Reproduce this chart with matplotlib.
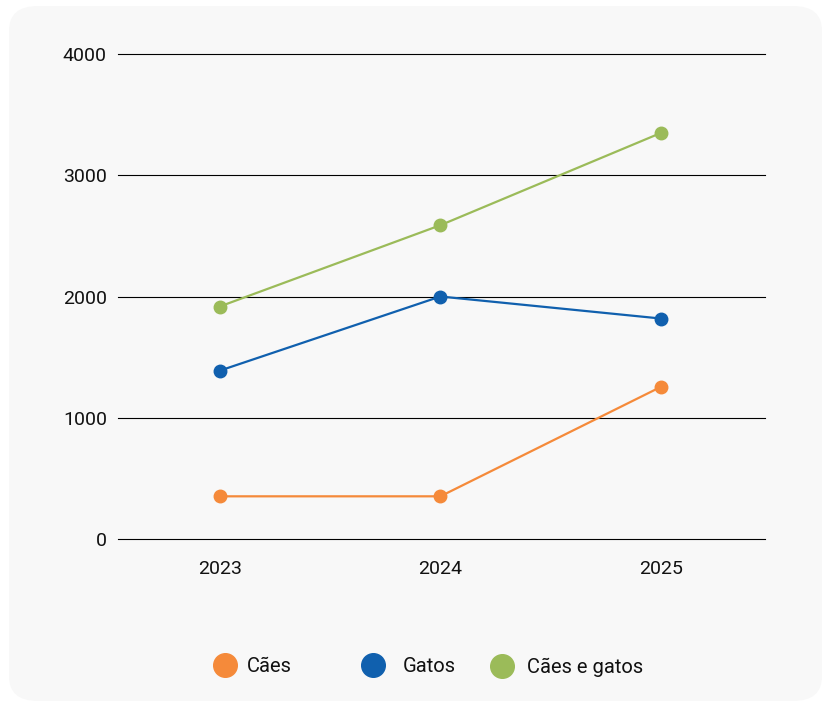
import matplotlib
matplotlib.use("Agg")
import matplotlib.pyplot as plt
from matplotlib.patches import FancyBboxPatch
from matplotlib.lines import Line2D

plt.rcParams['font.family'] = ['Roboto', 'DejaVu Sans']

# dados
anos = ['2023', '2024', '2025']
caes = [352, 352, 1256]
gatos = [1388, 2000, 1818]
caes_e_gatos = [1917, 2588, 3350]
series = ['Cães', 'Gatos', 'Cães e gatos']
cores = ['#F58A3A', '#1060AE', '#9BBB59']

fig = plt.figure(figsize=(8.29, 7.01), dpi=100, facecolor='white')

# fundo cinza arredondado
fundo = FancyBboxPatch((9 / 829, 0.0), (822 - 9) / 829, (701 - 6) / 701,
                       boxstyle='round,pad=0,rounding_size=0.035',
                       transform=fig.transFigure, facecolor='#f8f8f8',
                       edgecolor='none', zorder=-10)
fig.patches.append(fundo)

ax = fig.add_axes([118 / 829, (701 - 539) / 701, 647 / 829, 485 / 701])
ax.set_facecolor('none')
ax.set_zorder(1)

x = list(range(len(anos)))
for valores, cor in zip([caes, gatos, caes_e_gatos], cores):
    ax.plot(x, valores, color=cor, linewidth=1.6, marker='o', markersize=9,
            zorder=3, clip_on=False)

ax.set_xlim(-0.46, 2.47)
ax.set_ylim(0, 4000)
ax.set_yticks([0, 1000, 2000, 3000, 4000])
ax.set_xticks(x)
ax.set_xticklabels(anos)
ax.grid(axis='y', color='black', linewidth=0.8, zorder=1)
for g in ax.yaxis.get_gridlines():
    g.set_clip_on(False)
ax.set_axisbelow(True)
for s in ax.spines.values():
    s.set_visible(False)
ax.tick_params(axis='both', length=0, labelsize=14, colors='#111111')
ax.tick_params(axis='y', pad=8)
ax.tick_params(axis='x', pad=15)

# legenda (um item por vez, espaçamento como no original)
pos_legenda = [213, 361, 490]
espacos = [0.5, 0.85, 0.65]
for nome, cor, px, esp in zip(series, cores, pos_legenda, espacos):
    h = Line2D([], [], linestyle='none', marker='o', markersize=17,
               color=cor)
    leg = fig.legend([h], [nome], loc='center left',
                     bbox_to_anchor=(px / 829, (701 - 667) / 701),
                     frameon=False, fontsize=14.5, handlelength=1.2,
                     handletextpad=esp, borderpad=0, borderaxespad=0)
    for t in leg.get_texts():
        t.set_color('#111111')

fig.savefig('out.png', dpi=100, facecolor='white')
